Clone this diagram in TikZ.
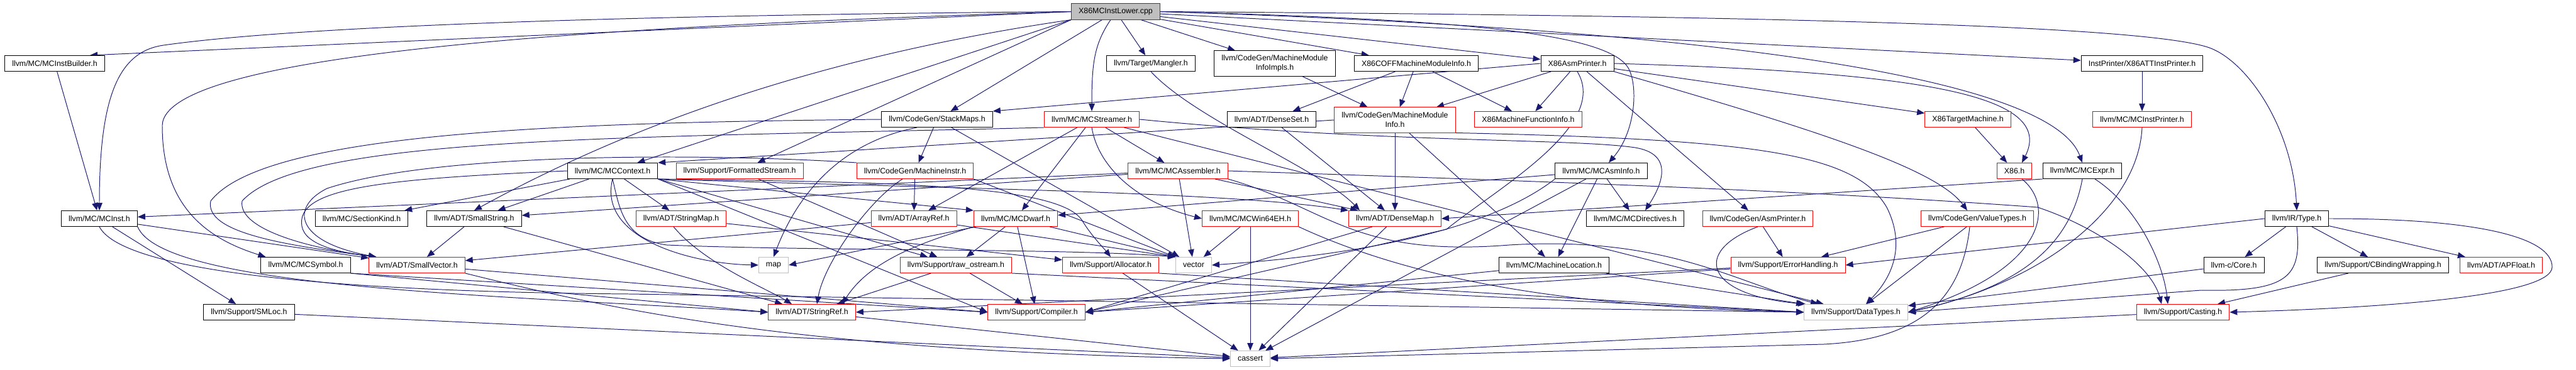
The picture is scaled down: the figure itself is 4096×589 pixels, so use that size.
\documentclass[tikz,border=0pt]{standalone}
\usepackage{fontspec}
\setmainfont{Liberation Sans}
\usepackage{xcolor}
\usepackage{tikz}
\usetikzlibrary{arrows.meta, backgrounds}

\definecolor{edgeblue}{HTML}{191970}
\definecolor{boxred}{HTML}{FF0000}
\definecolor{boxgrey}{HTML}{BFBFBF}
\definecolor{rootline}{HTML}{404040}

\begin{document}
\begin{tikzpicture}[
    x=0.025cm, y=-0.025cm,
    hfile/.style={draw=black, fill=white, line width=0.7pt, minimum height=0.625cm, inner xsep=0.29cm, inner ysep=0pt, align=center, font=\fontsize{8.8}{10.6}\selectfont},
    hred/.style={hfile, draw=boxred},
    hsys/.style={hfile, draw=boxgrey},
    hroot/.style={hfile, draw=rootline, fill=boxgrey},
    htwo/.style={minimum height=1.0cm},
    inc/.style={draw=edgeblue, line width=0.7pt, -{Triangle[length=0.3cm, width=0.24cm]}}
]
\useasboundingbox (0,0) rectangle (4096,589);

\node[hroot] (root) at (1774, 18.5) {X86MCInstLower.cpp};

\node[hfile] (instbuilder) at (87, 101) {llvm/MC/MCInstBuilder.h};
\node[hfile] (mangler) at (1830, 101) {llvm/Target/Mangler.h};
\node[hfile, htwo] (mmiimpls) at (2027, 101) {llvm/CodeGen/MachineModule\\InfoImpls.h};
\node[hfile] (coff) at (2252, 101) {X86COFFMachineModuleInfo.h};
\node[hfile] (asmprinter) at (2508, 101) {X86AsmPrinter.h};
\node[hfile] (attprinter) at (3406, 101) {InstPrinter/X86ATTInstPrinter.h};

\node[hfile] (stackmaps) at (1490, 190) {llvm/CodeGen/StackMaps.h};
\node[hred] (streamer) at (1736, 190) {llvm/MC/MCStreamer.h};
\node[hfile] (denseset) at (2022, 190) {llvm/ADT/DenseSet.h};
\node[hred, htwo] (mmi) at (2218, 191) {llvm/CodeGen/MachineModule\\Info.h};
\node[hred] (mfi) at (2430, 190) {X86MachineFunctionInfo.h};
\node[hred] (targetmachine) at (3129, 190) {X86TargetMachine.h};
\node[hred] (instprinter) at (3406, 190) {llvm/MC/MCInstPrinter.h};

\node[hfile] (context) at (974, 272) {llvm/MC/MCContext.h};
\node[hred] (fstream) at (1176, 272) {llvm/Support/FormattedStream.h};
\node[hred] (minstr) at (1455, 272) {llvm/CodeGen/MachineInstr.h};
\node[hred] (assembler) at (1873, 272) {llvm/MC/MCAssembler.h};
\node[hfile] (asminfo) at (2546, 272) {llvm/MC/MCAsmInfo.h};
\node[hred] (xeightsix) at (3203, 272) {X86.h};
\node[hfile] (expr) at (3311, 272) {llvm/MC/MCExpr.h};

\node[hfile] (inst) at (158, 348) {llvm/MC/MCInst.h};
\node[hfile] (sectionkind) at (575, 348) {llvm/MC/SectionKind.h};
\node[hfile] (smallstring) at (754, 348) {llvm/ADT/SmallString.h};
\node[hred] (stringmap) at (1083, 348) {llvm/ADT/StringMap.h};
\node[hred] (arrayref) at (1453, 348) {llvm/ADT/ArrayRef.h};
\node[hred] (dwarf) at (1615, 348) {llvm/MC/MCDwarf.h};
\node[hred] (win64eh) at (1988, 348) {llvm/MC/MCWin64EH.h};
\node[hred] (densemap) at (2218, 348) {llvm/ADT/DenseMap.h};
\node[hfile] (directives) at (2600, 348) {llvm/MC/MCDirectives.h};
\node[hred] (cgasmprinter) at (2795, 348) {llvm/CodeGen/AsmPrinter.h};
\node[hred] (valuetypes) at (3144, 348) {llvm/CodeGen/ValueTypes.h};
\node[hfile] (type) at (3652, 348) {llvm/IR/Type.h};

\node[hfile] (symbol) at (486, 422) {llvm/MC/MCSymbol.h};
\node[hred] (smallvector) at (663, 422) {llvm/ADT/SmallVector.h};
\node[hsys] (map) at (1230, 422) {map};
\node[hred] (rawostream) at (1520, 422) {llvm/Support/raw\_ostream.h};
\node[hred] (allocator) at (1766, 422) {llvm/Support/Allocator.h};
\node[hsys] (vector) at (1898, 422) {vector};
\node[hfile] (machineloc) at (2471, 422) {llvm/MC/MachineLocation.h};
\node[hred] (errorhandling) at (2843, 422) {llvm/Support/ErrorHandling.h};
\node[hfile] (core) at (3552, 422) {llvm-c/Core.h};
\node[hfile] (cbinding) at (3789, 422) {llvm/Support/CBindingWrapping.h};
\node[hred] (apfloat) at (3977, 422) {llvm/ADT/APFloat.h};

\node[hfile] (smloc) at (396, 497) {llvm/Support/SMLoc.h};
\node[hred] (stringref) at (1291, 497) {llvm/ADT/StringRef.h};
\node[hred] (compiler) at (1648, 497) {llvm/Support/Compiler.h};
\node[hsys] (datatypes) at (2951, 497) {llvm/Support/DataTypes.h};
\node[hred] (casting) at (3471, 497) {llvm/Support/Casting.h};

\node[hsys] (cassert) at (1988, 571) {cassert};

\begin{scope}[on background layer]
\draw[inc] (root.west) -- ([xshift=1.4cm]instbuilder.north);
\draw[inc] (root.west) .. controls (900,25) and (450,45) .. (260,72) .. controls (190,82) and (158,150) .. (inst.north);
\draw[inc] (root.west) .. controls (1000,40) and (260,80) .. (258,200) .. controls (258,330) and (330,380) .. ([xshift=0.2cm]symbol.north west);
\draw[inc] (root.south west) .. controls (1300,90) and (1000,200) .. (smallstring.north);
\draw[inc] (root.south west) -- (context);
\draw[inc] (root.south west) -- (fstream);
\draw[inc] (root) -- (stackmaps);
\draw[inc] ([xshift=-0.2cm]root.south) .. controls (1740,70) and (1736,100) .. (streamer.north);
\draw[inc] (root) -- (mangler);
\draw[inc] (root) -- (mmiimpls);
\draw[inc] (root) -- (coff);
\draw[inc] (root) -- (asmprinter);
\draw[inc] (root) -- (attprinter);
\draw[inc] (root.east) .. controls (2300,30) and (2560,50) .. (2590,110) .. controls (2605,140) and (2600,210) .. ([xshift=0.3cm]asminfo.north);
\draw[inc] (root.east) .. controls (2700,45) and (3260,120) .. (expr.north);
\draw[inc] (root.east) .. controls (2800,25) and (3400,40) .. (3510,75) .. controls (3570,94) and (3645,200) .. (type.north);

\draw[inc] (asmprinter.west) -- (stackmaps.north east);
\draw[inc] (asmprinter) -- (mmi);
\draw[inc] (asmprinter) -- (mfi);
\draw[inc] (asmprinter) -- (targetmachine);
\draw[inc] (asmprinter.east) .. controls (3050,115) and (3270,150) .. ([xshift=0.3cm]xeightsix.north);
\draw[inc] (asmprinter) -- (cgasmprinter);
\draw[inc] (asmprinter.south east) .. controls (2900,210) and (3080,270) .. ([xshift=-0.4cm]valuetypes.north);
\draw[inc] (asmprinter.south) .. controls (2560,200) and (2380,300) .. (2300,365) -- (compiler.east);

\draw[inc] (coff) -- (denseset);
\draw[inc] (coff) -- (mmi);
\draw[inc] (coff) -- (mfi);
\draw[inc] (mmiimpls) -- (mmi);
\draw[inc] (attprinter) -- (instprinter);
\draw[inc] (mangler.south) .. controls (1900,190) and (2100,270) .. ([xshift=-1.4cm]densemap.north);
\draw[inc] (targetmachine) -- (xeightsix);
\draw[inc] (instbuilder) -- (inst);

\draw[inc] (stackmaps) -- (minstr);
\draw[inc] ([xshift=-0.8cm]stackmaps.south) .. controls (1320,230) and (1260,330) .. (map.north);
\draw[inc] (stackmaps) -- (vector);
\draw[inc] (stackmaps.west) .. controls (900,195) and (420,210) .. (335,320) .. controls (325,370) and (450,390) .. ([xshift=0.3cm]smallvector.north west);

\draw[inc] (streamer) -- (assembler);
\draw[inc] (streamer) -- (dwarf);
\draw[inc] (streamer.south) .. controls (1745,260) and (1800,320) .. (win64eh.west);
\draw[inc] (streamer) -- (arrayref);
\draw[inc] (streamer.east) .. controls (2200,228) and (2500,220) .. (2600,235) .. controls (2660,245) and (2645,290) .. ([xshift=0.4cm]directives.north);
\draw[inc] (streamer) -- (datatypes);
\draw[inc] (streamer.south west) .. controls (1000,220) and (480,215) .. (385,320) .. controls (378,360) and (470,392) .. ([xshift=0.3cm]smallvector.north west);

\draw[inc] (denseset) -- (densemap);
\draw[inc] (mmi) -- (densemap);
\draw[inc] (mmi) -- (machineloc);
\draw[inc] (mmi.west) -- (context.north east);
\draw[inc] (mmi.south east) .. controls (2800,222) and (2950,245) .. (3000,330) .. controls (3030,390) and (3010,440) .. ([xshift=0.4cm]datatypes.north);
\draw[inc] (instprinter.south) .. controls (3400,330) and (3250,450) .. (datatypes.east);

\draw[inc] (context) -- (sectionkind);
\draw[inc] (context) -- (smallstring);
\draw[inc] (context) -- (stringmap);
\draw[inc] (context.south east) .. controls (1500,300) and (1950,305) .. (densemap.north west);
\draw[inc] (context.south east) -- (dwarf.north west);
\draw[inc] (context.south east) .. controls (1400,290) and (1680,292) .. (1720,350) .. controls (1735,375) and (1755,395) .. (allocator.north);
\draw[inc] (context.south east) -- (rawostream);
\draw[inc] (context.south east) -- (compiler.west);
\draw[inc] (context.south) .. controls (950,380) and (1100,420) .. (map.west);
\draw[inc] (context.south) .. controls (985,330) and (990,380) .. (1060,390) .. controls (1300,400) and (1700,395) .. (vector.north west);
\draw[inc] (context.west) .. controls (600,285) and (470,300) .. (480,360) .. controls (485,390) and (540,402) .. ([xshift=0.3cm]smallvector.north west);

\draw[inc] (fstream) -- (rawostream);

\draw[inc] (minstr) -- (arrayref);
\draw[inc] ([xshift=-0.5cm]minstr.south) .. controls (1380,320) and (1310,420) .. ([xshift=0.2cm]stringref.north);
\draw[inc] (minstr.south east) -- (vector.north west);
\draw[inc] (minstr.north west) .. controls (1150,245) and (700,240) .. (520,300) .. controls (460,330) and (470,385) .. ([xshift=0.3cm]smallvector.north west);

\draw[inc] (assembler) -- (vector);
\draw[inc] (assembler) -- (inst);
\draw[inc] (assembler) -- (smallstring);
\draw[inc] (assembler) -- (densemap);
\draw[inc] (assembler.east) .. controls (2500,290) and (2900,305) .. (3240,330) .. controls (3330,360) and (3420,420) .. ([xshift=-0.85cm]casting.north);
\draw[inc] (assembler.south east) .. controls (2110,330) and (2150,410) .. (2400,390) .. controls (2650,375) and (2760,450) .. ([xshift=-1.5cm]datatypes.north);

\draw[inc] (asminfo) -- (directives);
\draw[inc] (asminfo) -- (machineloc);
\draw[inc] (asminfo) -- (dwarf);
\draw[inc] (asminfo) -- (cassert);
\draw[inc] (asminfo.south west) .. controls (2350,380) and (2100,410) .. (vector.east);

\draw[inc] ([xshift=0.3cm]xeightsix.south) .. controls (3270,330) and (3250,430) .. (datatypes.east);
\draw[inc] (expr.south west) -- (densemap.east);
\draw[inc] ([xshift=0.5cm]expr.south) .. controls (3400,330) and (3440,420) .. ([xshift=-0.6cm]casting.north);
\draw[inc] (expr.south) .. controls (3290,400) and (3200,460) .. (datatypes.east);

\draw[inc] (inst) -- (smallvector);
\draw[inc] (inst.south east) .. controls (260,460) and (800,470) .. (stringref.west);
\draw[inc] (inst.south) .. controls (200,440) and (600,465) .. (1000,468) -- (datatypes.west);
\draw[inc] (inst) -- (smloc);

\draw[inc] (smallstring) -- (smallvector);
\draw[inc] (smallstring) -- (stringref);
\draw[inc] ([xshift=-0.3cm]stringmap.south) .. controls (1120,420) and (1220,460) .. ([xshift=-0.8cm]stringref.north);
\draw[inc] (stringmap) -- (allocator);
\draw[inc] (arrayref) -- (smallvector);
\draw[inc] (arrayref) -- (vector.north west);

\draw[inc] (dwarf) -- (rawostream);
\draw[inc] (dwarf) -- (compiler);
\draw[inc] (dwarf) -- (vector.north west);
\draw[inc] (dwarf.south west) .. controls (1450,390) and (1380,420) .. ([xshift=1.2cm]stringref.north);
\draw[inc] (dwarf) -- (map.east);

\draw[inc] (win64eh) -- (vector);
\draw[inc] (win64eh) -- (cassert);
\draw[inc] (win64eh.south east) .. controls (2300,470) and (2600,490) .. (datatypes.west);
\draw[inc] (densemap) -- (cassert);
\draw[inc] ([xshift=-0.9cm]densemap.south) -- (compiler.east);

\draw[inc] (cgasmprinter) -- (errorhandling);
\draw[inc] (cgasmprinter.south) .. controls (2690,400) and (2710,470) .. ([xshift=-2cm]datatypes.north);
\draw[inc] (valuetypes) -- (errorhandling);
\draw[inc] (valuetypes) -- (datatypes);
\draw[inc] ([xshift=-0.3cm]valuetypes.south) .. controls (3120,470) and (3060,540) .. (2900,548) -- (cassert.east);

\draw[inc] (type) -- (core);
\draw[inc] (type) -- (cbinding);
\draw[inc] (type) -- (apfloat);
\draw[inc] (type.west) -- (errorhandling.east);
\draw[inc] (type.south) .. controls (3660,440) and (3640,465) .. (3500,462) -- (datatypes.east);
\draw[inc] (type.east) .. controls (3950,348) and (4058,380) .. (4058,425) .. controls (4058,470) and (3800,490) .. (casting.east);

\draw[inc] (symbol.south east) -- (stringref.west);
\draw[inc] (symbol.south east) -- (compiler.west);
\draw[inc] (smallvector) -- (compiler.west);
\draw[inc] (smallvector.south east) .. controls (1000,500) and (1300,560) .. (cassert.west);
\draw[inc] (rawostream) -- (stringref);
\draw[inc] (rawostream) -- (compiler);
\draw[inc] (rawostream.south east) -- (datatypes.west);
\draw[inc] (allocator) -- (cassert);
\draw[inc] (allocator.south east) -- (datatypes.west);
\draw[inc] (machineloc) -- (compiler.east);
\draw[inc] (machineloc) -- (datatypes);
\draw[inc] (errorhandling) -- (compiler.east);
\draw[inc] (errorhandling) -- (stringref.east);
\draw[inc] (core) -- (datatypes);
\draw[inc] (cbinding) -- (casting);
\draw[inc] (smloc) -- (cassert);
\draw[inc] (stringref) -- (cassert);
\draw[inc] (casting) -- (cassert);
\end{scope}
\end{tikzpicture}
\end{document}
